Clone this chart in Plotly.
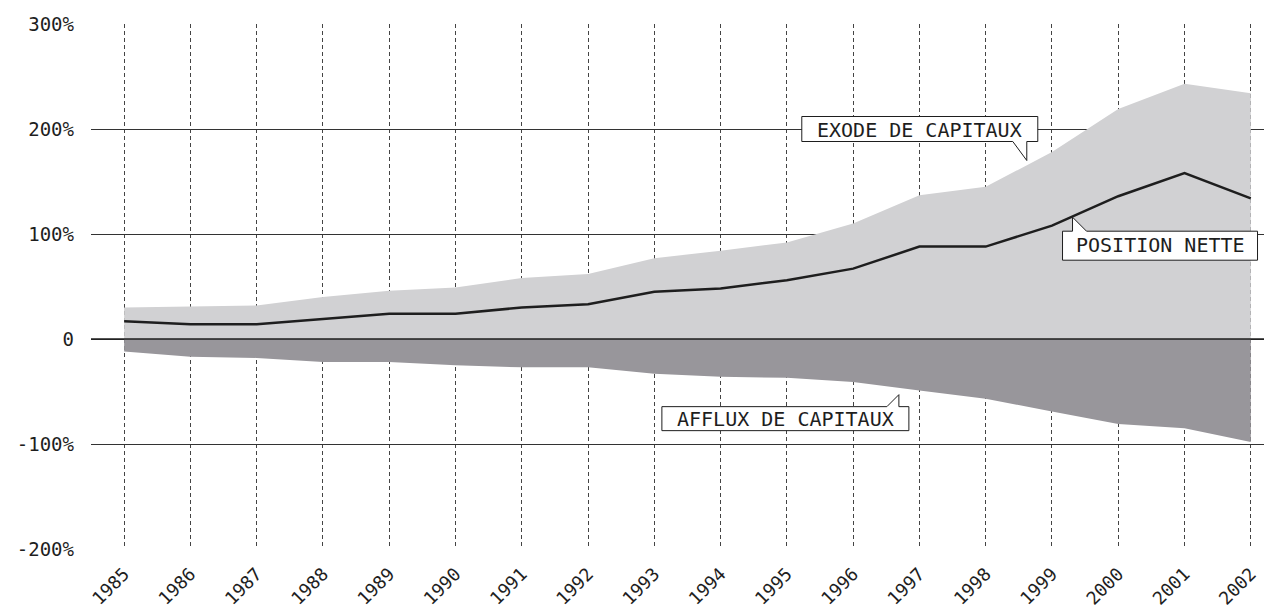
import plotly.graph_objects as go

# data (% )
years = list(range(1985, 2003))
exode = [30, 31, 32, 40, 46, 49, 58, 62, 77, 84, 92, 110, 137, 145, 178, 219, 243, 234]
afflux = [-12, -17, -18, -22, -22, -25, -27, -27, -33, -36, -37, -41, -49, -57, -69, -81, -85, -98]
nette = [17, 14, 14, 19, 24, 24, 30, 33, 45, 48, 56, 67, 88, 88, 108, 136, 158, 134]

y_ticks = [-200, -100, 0, 100, 200, 300]
y_labels = ["-200%", "-100%", "0", "100%", "200%", "300%"]

FONT = "DejaVu Sans Mono"

fig = go.Figure()

# exode de capitaux (light area)
fig.add_trace(go.Scatter(x=years, y=exode, fill="tozeroy", mode="none",
                         fillcolor="#d1d1d3", hoverinfo="skip"))
# afflux de capitaux (dark area)
fig.add_trace(go.Scatter(x=years, y=afflux, fill="tozeroy", mode="none",
                         fillcolor="#98969b", hoverinfo="skip"))
# position nette
fig.add_trace(go.Scatter(x=years, y=nette, mode="lines",
                         line=dict(color="#1e1e1e", width=2.5)))

# zero line on top of the areas
fig.add_shape(type="line", xref="paper", x0=0, x1=1, yref="y", y0=0, y1=0,
              line=dict(color="#1e1e1e", width=1.5), layer="above")


# callout boxes: box + pointer as one path, in pixels around the pointer tip
def callout(text, x, y, path, dx, dy):
    fig.add_shape(type="path", xref="x", yref="y",
                  xsizemode="pixel", ysizemode="pixel",
                  xanchor=x, yanchor=y, path=path,
                  fillcolor="white", line=dict(color="#1e1e1e", width=1),
                  layer="above")
    fig.add_annotation(x=x, y=y, text=text, showarrow=False,
                       xshift=dx, yshift=dy,
                       font=dict(family=FONT, size=20, color="#1e1e1e"))


# tip positions on the data (year, value)
callout("EXODE DE CAPITAUX", 1998.62, 170,
        "M0,0 L0,19 L11,19 L11,44 L-225,44 L-225,19 L-14,19 Z", -107, 31)
callout("POSITION NETTE", 1999.31, 116,
        "M0,0 L14,-14 L185,-14 L185,-43 L-10,-43 L-10,-14 L0,-14 Z", 88, -28)
callout("AFFLUX DE CAPITAUX", 1996.69, -53,
        "M0,0 L0,-12 L10,-12 L10,-36 L-237,-36 L-237,-12 L-12,-12 Z", -113, -24)

# page body has an 8px margin, so the figure is 8px smaller and margins shifted
fig.update_layout(
    width=1264, height=600,
    margin=dict(l=83, r=0, t=16, b=59),
    plot_bgcolor="white", paper_bgcolor="white",
    showlegend=False,
    font=dict(family=FONT, color="#1e1e1e"),
)
fig.update_xaxes(range=[1984.5, 2002.32], tickvals=years, ticktext=[str(y) for y in years],
                 tickangle=-45, tickfont=dict(size=18), automargin=False,
                 ticklabelstandoff=10,
                 showgrid=True, gridcolor="#444444", gridwidth=1, griddash="4px,3px",
                 zeroline=False, showline=False, ticks="")
fig.update_yaxes(range=[-200, 300], tickvals=y_ticks, ticktext=y_labels,
                 tickfont=dict(size=19), ticklabelstandoff=16, automargin=False,
                 showgrid=True, gridcolor="#333333", gridwidth=1,
                 zeroline=False, showline=False, ticks="")

fig.write_html("out.html")
